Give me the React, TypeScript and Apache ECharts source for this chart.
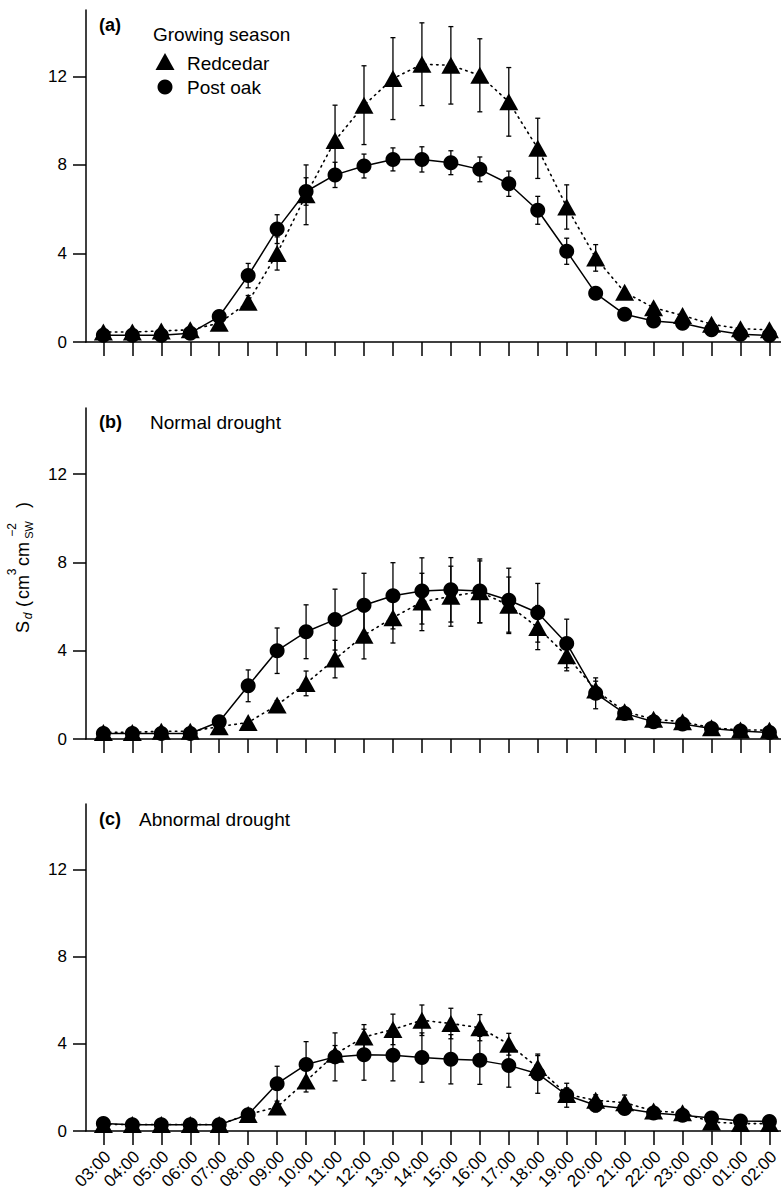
import React, { useEffect, useRef } from "react";
import * as echarts from "echarts";

const hours = [
  "03:00", "04:00", "05:00", "06:00", "07:00", "08:00", "09:00", "10:00",
  "11:00", "12:00", "13:00", "14:00", "15:00", "16:00", "17:00", "18:00",
  "19:00", "20:00", "21:00", "22:00", "23:00", "00:00", "01:00", "02:00",
];
const yTicks = [0, 4, 8, 12];

// (a) Growing season
const aRedcedar = [0.45, 0.45, 0.5, 0.55, 0.85, 1.8, 4.0, 6.65, 9.1, 10.7, 11.9, 12.55, 12.5, 12.05, 10.85, 8.75, 6.1, 3.8, 2.25, 1.55, 1.2, 0.8, 0.6, 0.55];
const aRedcedarErr = [0.05, 0.05, 0.05, 0.05, 0.15, 0.3, 0.75, 1.35, 1.6, 1.78, 1.85, 1.87, 1.75, 1.65, 1.55, 1.36, 1.0, 0.6, 0.15, 0.1, 0.1, 0.1, 0.05, 0.05];
const aPostOak = [0.3, 0.3, 0.3, 0.4, 1.15, 3.0, 5.1, 6.8, 7.55, 7.95, 8.25, 8.25, 8.1, 7.8, 7.15, 5.95, 4.1, 2.2, 1.25, 0.95, 0.85, 0.55, 0.35, 0.3];
const aPostOakErr = [0.05, 0.05, 0.05, 0.1, 0.2, 0.55, 0.65, 0.62, 0.57, 0.54, 0.52, 0.57, 0.54, 0.56, 0.57, 0.63, 0.59, 0.2, 0.15, 0.1, 0.1, 0.08, 0.05, 0.05];

// (b) Normal drought
const bRedcedar = [0.3, 0.3, 0.35, 0.35, 0.56, 0.75, 1.54, 2.52, 3.62, 4.7, 5.5, 6.21, 6.47, 6.67, 6.06, 5.05, 3.77, 2.22, 1.24, 0.9, 0.78, 0.51, 0.41, 0.4];
const bRedcedarErr = [0.05, 0.05, 0.05, 0.05, 0.1, 0.1, 0.2, 0.56, 0.85, 1.07, 1.15, 1.3, 1.36, 1.4, 1.28, 1.0, 0.68, 0.4, 0.2, 0.1, 0.1, 0.05, 0.05, 0.05];
const bPostOak = [0.25, 0.25, 0.25, 0.25, 0.78, 2.41, 4.0, 4.86, 5.41, 6.06, 6.49, 6.71, 6.76, 6.71, 6.29, 5.72, 4.33, 2.07, 1.16, 0.78, 0.68, 0.48, 0.36, 0.29];
const bPostOakErr = [0.05, 0.05, 0.05, 0.05, 0.1, 0.72, 1.03, 1.22, 1.38, 1.45, 1.5, 1.5, 1.46, 1.45, 1.45, 1.33, 1.1, 0.7, 0.2, 0.1, 0.1, 0.05, 0.05, 0.05];

// (c) Abnormal drought
const cRedcedar = [0.3, 0.3, 0.3, 0.3, 0.3, 0.76, 1.1, 2.29, 3.52, 4.31, 4.66, 5.08, 4.93, 4.74, 3.98, 2.91, 1.68, 1.41, 1.3, 0.92, 0.84, 0.41, 0.34, 0.34];
const cRedcedarErr = [0.05, 0.05, 0.05, 0.05, 0.05, 0.1, 0.15, 0.5, 0.4, 0.57, 0.7, 0.7, 0.7, 0.6, 0.5, 0.55, 0.3, 0.25, 0.35, 0.1, 0.1, 0.05, 0.05, 0.05];
const cPostOak = [0.34, 0.29, 0.29, 0.29, 0.29, 0.75, 2.17, 3.05, 3.4, 3.5, 3.47, 3.37, 3.29, 3.24, 3.01, 2.63, 1.64, 1.18, 1.03, 0.83, 0.72, 0.6, 0.46, 0.44];
const cPostOakErr = [0.05, 0.05, 0.05, 0.05, 0.05, 0.1, 0.8, 1.05, 1.1, 1.17, 1.17, 1.13, 1.13, 1.1, 1.0, 0.9, 0.55, 0.3, 0.25, 0.1, 0.1, 0.05, 0.05, 0.05];

const FONT = "'Liberation Sans', Arial, sans-serif";
const idx = hours.map((_, i) => i);

const panels = [
  { top: 10, height: 332, red: aRedcedar, redErr: aRedcedarErr, oak: aPostOak, oakErr: aPostOakErr },
  { top: 408, height: 331, red: bRedcedar, redErr: bRedcedarErr, oak: bPostOak, oakErr: bPostOakErr },
  { top: 804, height: 327, red: cRedcedar, redErr: cRedcedarErr, oak: cPostOak, oakErr: cPostOakErr },
];

function errorSeries(name: string, vals: number[], errs: number[], k: number) {
  return {
    type: "custom",
    name: name + " error",
    xAxisIndex: k,
    yAxisIndex: k,
    z: 1,
    silent: true,
    data: vals.map((v, i) => [i, v, errs[i]]),
    encode: { x: 0, y: 1 },
    renderItem: (params: any, api: any) => {
      const x = api.value(0);
      const y = api.value(1);
      const e = api.value(2);
      const t = api.coord([x, y + e]);
      const b = api.coord([x, y - e]);
      const style = { stroke: "#000", lineWidth: 1.3 };
      return {
        type: "group",
        children: [
          { type: "line", shape: { x1: t[0], y1: t[1], x2: b[0], y2: b[1] }, style },
          { type: "line", shape: { x1: t[0] - 2.5, y1: t[1], x2: t[0] + 2.5, y2: t[1] }, style },
          { type: "line", shape: { x1: b[0] - 2.5, y1: b[1], x2: b[0] + 2.5, y2: b[1] }, style },
        ],
      };
    },
  };
}

export default function App() {
  const ref = useRef<HTMLDivElement>(null);
  useEffect(() => {
    const chart = echarts.init(ref.current!, null, { renderer: "svg" });
    const grids: any[] = [];
    const xAxes: any[] = [];
    const yAxes: any[] = [];
    const series: any[] = [];
    panels.forEach((p, k) => {
      grids.push({ left: 86, width: 695, top: p.top, height: p.height, containLabel: false, outerBoundsMode: "none" });
      xAxes.push({
        type: "value",
        gridIndex: k,
        min: -0.6,
        max: 23.4,
        axisLine: { show: true, onZero: false, lineStyle: { color: "#000", width: 1.5 } },
        axisTick: { show: true, inside: false, length: 14, customValues: idx, lineStyle: { color: "#000", width: 1.5 } },
        axisLabel: { show: false },
        splitLine: { show: false },
      });
      yAxes.push({
        type: "value",
        gridIndex: k,
        min: 0,
        max: 15,
        axisLine: { show: true, onZero: false, lineStyle: { color: "#000", width: 1.5 } },
        axisTick: { show: true, inside: false, length: 13, customValues: yTicks, lineStyle: { color: "#000", width: 1.5 } },
        axisLabel: { customValues: yTicks, margin: 19, fontSize: 17, fontFamily: FONT, color: "#000" },
        splitLine: { show: false },
      });
      series.push(errorSeries("Redcedar", p.red, p.redErr, k));
      series.push(errorSeries("Post oak", p.oak, p.oakErr, k));
      series.push({
        type: "line",
        name: "Redcedar",
        xAxisIndex: k,
        yAxisIndex: k,
        z: 2,
        data: p.red.map((v, i) => [i, v]),
        symbol: "triangle",
        symbolSize: [19, 17],
        showAllSymbol: true,
        lineStyle: { color: "#000", width: 1.6, type: [1.5, 4.5], cap: "round" },
        itemStyle: { color: "#000", borderWidth: 0 },
      });
      series.push({
        type: "line",
        name: "Post oak",
        xAxisIndex: k,
        yAxisIndex: k,
        z: 3,
        data: p.oak.map((v, i) => [i, v]),
        symbol: "circle",
        symbolSize: 15,
        showAllSymbol: true,
        lineStyle: { color: "#000", width: 1.5 },
        itemStyle: { color: "#000", borderWidth: 0 },
      });
    });

    // Hour labels under panel (c): same scale, label anchors nudged to the reference placement
    grids.push({ left: 90.5, width: 695, top: 804, height: 327, containLabel: false, outerBoundsMode: "none" });
    xAxes.push({
      type: "value",
      gridIndex: 3,
      min: -0.6,
      max: 23.4,
      axisLine: { show: false, onZero: false },
      axisTick: { show: false },
      splitLine: { show: false },
      axisLabel: {
        show: true,
        customValues: idx,
        rotate: 45,
        margin: 23,
        fontSize: 17,
        fontFamily: FONT,
        color: "#000",
        formatter: (v: number) => hours[Math.round(v)] ?? "",
      },
    });
    yAxes.push({ type: "value", gridIndex: 3, min: 0, max: 15, show: false });

    const txt = (text: string, x: number, y: number, extra: any = {}) => ({
      type: "text",
      x,
      y,
      style: {
        text,
        fontFamily: FONT,
        fontSize: 19,
        fill: "#000",
        verticalAlign: "middle",
        ...extra,
      },
    });
    const ytxt = (text: string, lx: number, ly: number, size: number, extra: any = {}) => ({
      type: "text",
      x: lx,
      y: ly,
      style: {
        text,
        fontFamily: FONT,
        fontSize: size,
        fill: "#000",
        align: "center",
        verticalAlign: "middle",
        ...extra,
      },
    });

    const graphic: any[] = [
      txt("(a)", 99, 25, { fontWeight: "bold", fontSize: 18 }),
      txt("Growing season", 153, 34),
      { type: "polygon", shape: { points: [[165, 53], [155.5, 70], [174.5, 70]] }, style: { fill: "#000" } },
      txt("Redcedar", 187, 63),
      { type: "circle", shape: { cx: 165, cy: 87, r: 7.5 }, style: { fill: "#000" } },
      txt("Post oak", 187, 87),
      txt("(b)", 99, 422, { fontWeight: "bold", fontSize: 18 }),
      txt("Normal drought", 150, 422),
      txt("(c)", 99, 819, { fontWeight: "bold", fontSize: 18 }),
      txt("Abnormal drought", 139, 819),
      {
        type: "group",
        x: 0,
        y: 636,
        rotation: Math.PI / 2,
        children: [
          ytxt("S", 9, 23, 18),
          ytxt("d", 20, 28, 12, { fontStyle: "italic" }),
          ytxt("(", 32, 23, 18),
          ytxt("cm", 49, 23, 18),
          ytxt("3", 64, 12, 12),
          ytxt("cm", 82, 23, 18),
          ytxt("\u22122", 106, 12, 12),
          ytxt("SW", 106, 29, 11),
          ytxt(")", 131, 23, 18),
        ],
      },
    ];

    chart.setOption({
      animation: false,
      backgroundColor: "#fff",
      grid: grids,
      xAxis: xAxes,
      yAxis: yAxes,
      series,
      graphic,
    });
    return () => chart.dispose();
  }, []);
  return <div ref={ref} style={{ position: "absolute", left: 0, top: 0, width: 781, height: 1192 }} />;
}
